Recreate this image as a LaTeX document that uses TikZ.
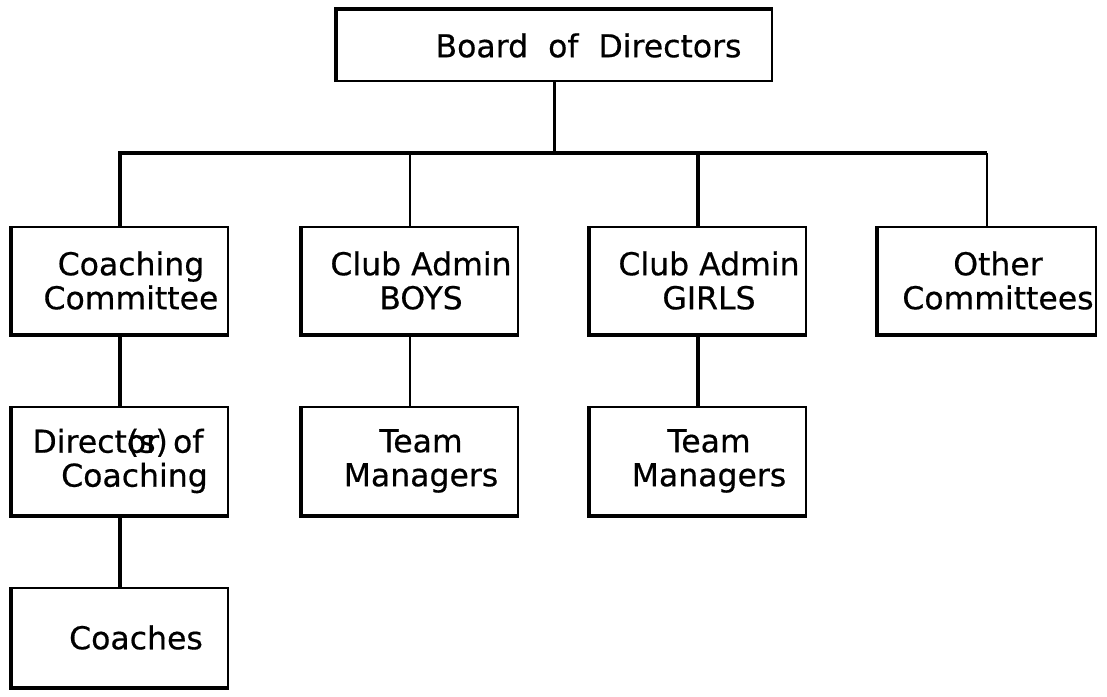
\documentclass[tikz,border=0pt]{standalone}
\usepackage{fontspec}
\setmainfont{DejaVu Sans}[FakeBold=0.5]

\begin{document}
\begin{tikzpicture}[x=1pt,y=-1pt,
    box/.style={draw,line width=2pt,minimum width=216pt,minimum height=107pt,inner sep=0pt},
    txt/.style={align=center,xshift=11pt,inner sep=0pt,font=\fontsize{31.5}{34}\selectfont},
    bold/.style={line width=3.5pt},
    fine/.style={line width=1.8pt}]
  \useasboundingbox (0,0) rectangle (1107,696);
  \node[box,minimum width=435pt,minimum height=71pt] (board) at (554.5,45.5) {};
  \node[box] (coach) at (120,280.5) {};
  \node[box] (boys) at (410,280.5) {};
  \node[box] (girls) at (698,280.5) {};
  \node[box,minimum width=218pt] (other) at (987,280.5) {};
  \node[box,minimum height=108pt] (director) at (120,461) {};
  \node[box,minimum height=108pt] (boysTM) at (410,461) {};
  \node[box,minimum height=108pt] (girlsTM) at (698,461) {};
  \node[box,minimum height=99pt] (coaches) at (120,637.5) {};
  \foreach \n in {coach,boys,girls,other,director,boysTM,girlsTM,coaches}
    \draw[bold] (\n.north west) -- (\n.south west) -- (\n.south east);
  \draw[bold] (board.south west) -- (board.north west) -- (board.north east);
  \node[txt,xshift=23pt] (boardT) at (board) {Board~~of~~Directors};
  \node[txt] (coachT) at (coach) {Coaching\\Committee};
  \node[txt] (boysT) at (boys) {Club~Admin\\BOYS};
  \node[txt] (girlsT) at (girls) {Club~Admin\\GIRLS};
  \node[txt] (otherT) at (other) {Other\\Committees};
  \node[txt,xshift=-13pt] (directorT) at (director) {Direct\makebox[0pt][l]{or}(s)\,of\\\hspace*{33pt}Coaching};
  \node[txt] (boysTMT) at (boysTM) {Team\\Managers};
  \node[txt] (girlsTMT) at (girlsTM) {Team\\Managers};
  \node[txt,xshift=5pt] (coachesT) at (coaches) {Coaches};
  \coordinate (bus) at (554.5,153);
  \draw[bold] (board.south) -- (bus);
  \draw[bold] (coach.north) |- (bus -| other.north);
  \draw[fine] (other.north) -- (other.north |- bus);
  \draw[fine] (boys.north) -- (boys.north |- bus);
  \draw[bold] (girls.north) -- (girls.north |- bus);
  \draw[bold] (coach.south) -- (director.north);
  \draw[fine] (boys.south) -- (boysTM.north);
  \draw[bold] (girls.south) -- (girlsTM.north);
  \draw[bold] (director.south) -- (coaches.north);
\end{tikzpicture}
\end{document}
